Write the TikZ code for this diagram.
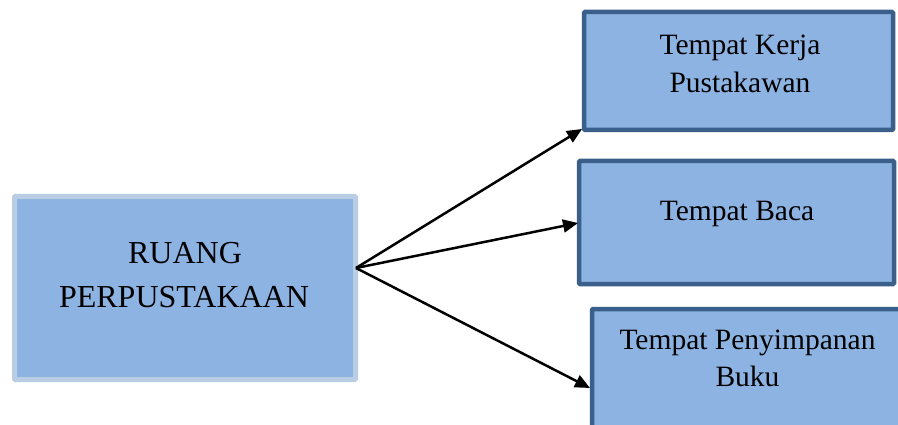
\documentclass[tikz,border=0pt]{standalone}
\usepackage{fontspec}
\setmainfont{Liberation Serif}
\usetikzlibrary{arrows.meta}
\definecolor{boxfill}{HTML}{8DB3E2}
\definecolor{boxdark}{HTML}{3A5F8B}
\definecolor{boxlight}{HTML}{B9CDE5}
\begin{document}
\begin{tikzpicture}[x=1pt,y=-1pt,
  mainbox/.style={draw=boxlight,fill=boxfill,line width=5pt,rounded corners=1pt},
  subbox/.style={draw=boxdark,fill=boxfill,line width=4.5pt,rounded corners=1pt},
  lbl/.style={anchor=base,inner sep=0pt,font=\fontsize{29.5}{29.5}\selectfont},
  biglbl/.style={lbl,font=\fontsize{32}{32}\selectfont},
  conn/.style={line width=2.5pt,-{Triangle[length=15pt,width=13pt]}}]
\useasboundingbox (0,0) rectangle (898,425);
% boxes
\node[mainbox,minimum width=341pt,minimum height=183pt] (main) at (185,288) {};
\node[subbox,minimum width=309pt,minimum height=118pt] (kerja) at (738.5,71) {};
\node[subbox,minimum width=315pt,minimum height=123pt] (baca) at (736.5,222.5) {};
\node[subbox,minimum width=320pt,minimum height=200pt] (simpan) at (752,409) {};
% texts
\node[biglbl] (t1) at (185,263) {RUANG};
\node[biglbl] (t2) at (184,308) {PERPUSTAKAAN};
\node[lbl] (t3) at (740,55) {Tempat Kerja};
\node[lbl] (t4) at (740,93) {Pustakawan};
\node[lbl] (t5) at (737,221) {Tempat Baca};
\node[lbl] (t6) at (747.5,349) {Tempat Penyimpanan};
\node[lbl] (t7) at (747.5,386) {Buku};
% connectors
\coordinate (src) at (356,268);
\coordinate (e1) at (582,129);
\coordinate (e2) at (578,223);
\coordinate (e3) at (590,388);
\draw[conn] (src) -- (e1);
\draw[conn] (src) -- (e2);
\draw[conn] (src) -- (e3);
\end{tikzpicture}
\end{document}
